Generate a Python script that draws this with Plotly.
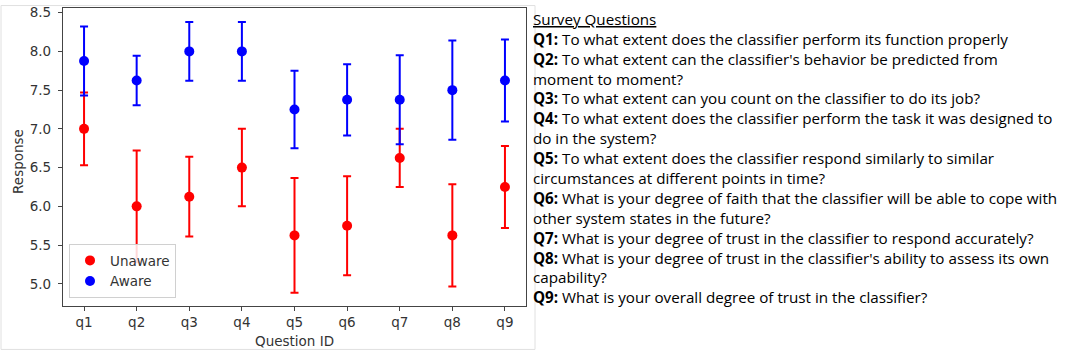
import plotly.graph_objects as go

# ---- data ----
question_ids = ["q1", "q2", "q3", "q4", "q5", "q6", "q7", "q8", "q9"]
unaware_mean = [7.0, 6.0, 6.125, 6.5, 5.625, 5.75, 6.625, 5.625, 6.25]
unaware_err = [0.47, 0.72, 0.515, 0.5, 0.74, 0.64, 0.375, 0.66, 0.53]
aware_mean = [7.875, 7.625, 8.0, 8.0, 7.25, 7.375, 7.375, 7.5, 7.625]
aware_err = [0.445, 0.32, 0.38, 0.38, 0.5, 0.46, 0.575, 0.64, 0.53]
y_ticks = [5.0, 5.5, 6.0, 6.5, 7.0, 7.5, 8.0, 8.5]

survey_title = "Survey Questions"
survey_lines = [
    ("Q1:", "To what extent does the classifier perform its function properly"),
    ("Q2:", "To what extent can the classifier's behavior be predicted from"),
    ("", "moment to moment?"),
    ("Q3:", "To what extent can you count on the classifier to do its job?"),
    ("Q4:", "To what extent does the classifier perform the task it was designed to"),
    ("", "do in the system?"),
    ("Q5:", "To what extent does the classifier respond similarly to similar"),
    ("", "circumstances at different points in time?"),
    ("Q6:", "What is your degree of faith that the classifier will be able to cope with"),
    ("", "other system states in the future?"),
    ("Q7:", "What is your degree of trust in the classifier to respond accurately?"),
    ("Q8:", "What is your degree of trust in the classifier's ability to assess its own"),
    ("", "capability?"),
    ("Q9:", "What is your overall degree of trust in the classifier?"),
]

W, H = 1065, 352
L, R, T, B = 63, 1065 - 526, 4, 352 - 306
pw, ph = W - L - R, H - T - B


def px(x):
    return (x - L) / pw


def py(y):
    return (H - B - y) / ph


fig = go.Figure()
fig.add_trace(go.Scatter(
    x=question_ids, y=unaware_mean, mode="markers", name="Unaware",
    marker=dict(color="#ff0000", size=10),
    error_y=dict(type="data", array=unaware_err, color="#ff0000", thickness=2, width=4),
))
fig.add_trace(go.Scatter(
    x=question_ids, y=aware_mean, mode="markers", name="Aware",
    marker=dict(color="#0000ff", size=10),
    error_y=dict(type="data", array=aware_err, color="#0000ff", thickness=2, width=4),
))

axis_font = dict(family="DejaVu Sans", size=13.5, color="#333333")
fig.update_xaxes(
    range=[-0.4, 8.4], showline=True, linecolor="#444444", linewidth=1.3, mirror=True,
    ticks="outside", ticklen=4, tickcolor="#444444", showgrid=False, zeroline=False,
    tickfont=axis_font, ticklabelstandoff=0,
)
fig.update_yaxes(
    range=[4.714, 8.56], showline=True, linecolor="#444444", linewidth=1.3, mirror=True,
    ticks="outside", ticklen=4, tickcolor="#444444", showgrid=False, zeroline=False,
    tickvals=y_ticks, ticktext=[f"{v:.1f}" for v in y_ticks], tickfont=axis_font,
    ticklabelstandoff=4,
)

fig.update_layout(
    width=W, height=H, margin=dict(l=L, r=R, t=T, b=B),
    paper_bgcolor="white", plot_bgcolor="white",
    legend=dict(x=px(69), y=py(298), xanchor="left", yanchor="bottom",
                bgcolor="rgba(255,255,255,0.85)", bordercolor="#d0d0d0", borderwidth=1,
                font=dict(family="DejaVu Sans", size=13.5, color="#333333"),
                itemwidth=30, tracegroupgap=0),
)

# axis titles
fig.add_annotation(text="Question ID", x=0.5, y=py(341), xref="paper", yref="paper",
                   xanchor="center", yanchor="middle", showarrow=False, font=axis_font)
fig.add_annotation(text="Response", x=px(18), y=py(160), xref="paper", yref="paper",
                   xanchor="center", yanchor="middle", showarrow=False, textangle=-90,
                   font=axis_font)

# light frame around the chart image
fig.add_shape(type="rect", xref="paper", yref="paper",
              x0=px(1), x1=px(535), y0=py(350), y1=py(1.5),
              line=dict(color="#e0e0e0", width=1), fillcolor="rgba(0,0,0,0)", layer="below")

text_font = dict(family="Open Sans", size=15.2, color="#000000")
x_text = px(531)
y0, dy = 15, 20.16
fig.add_annotation(text=f"<u>{survey_title}</u>", x=x_text, y=py(y0), xref="paper", yref="paper",
                   xanchor="left", yanchor="middle", showarrow=False, font=text_font)
for i, (lab, txt) in enumerate(survey_lines):
    t = f"<b>{lab}</b> {txt}" if lab else txt
    fig.add_annotation(text=t, x=x_text, y=py(y0 + (i + 1) * dy), xref="paper", yref="paper",
                       xanchor="left", yanchor="middle", showarrow=False, font=text_font)

fig.write_html("out.html", config={"displayModeBar": False},
               post_script="document.body.style.margin='0';")
